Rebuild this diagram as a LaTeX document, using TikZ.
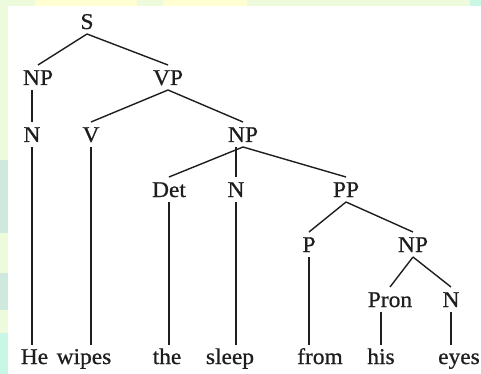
\documentclass[tikz,border=0pt]{standalone}
\usepackage{fontspec}
\setmainfont{Liberation Serif}
\newfontfamily\treefont{Liberation Serif}[FakeBold=0.7, FakeStretch=1.04]
\definecolor{pagegreen}{HTML}{EDFBDC}
\definecolor{pageyellow}{HTML}{FFFDD2}
\definecolor{pageteal}{HTML}{CFE9DF}
\definecolor{pagecyan}{HTML}{C9F7E6}
\definecolor{ink}{HTML}{1E1E1E}
\begin{document}
\begin{tikzpicture}[x=1pt,y=-1pt,
  lbl/.style={font=\treefont\fontsize{22.5}{27}\selectfont, text=ink, inner xsep=1pt,
    inner ysep=5pt, outer sep=0pt, text height=15pt, text depth=0pt, anchor=base},
  leaf/.style={lbl, inner ysep=3pt, text height=16pt, text depth=5pt},
  branch/.style={line width=1.4pt, draw=ink}]
\useasboundingbox (0,0) rectangle (481,374);
\clip (0,0) rectangle (481,374);
% slide background around the white panel
\fill[pagegreen] (0,0) rectangle (481,374);
\fill[pageyellow] (35,0) rectangle (137,6);
\fill[pageyellow] (163,0) rectangle (247,6);
\fill[pagecyan] (470,0) rectangle (481,6);
\fill[pageteal] (0,160) rectangle (8,233);
\fill[pageteal] (0,273) rectangle (8,310);
\fill[pagecyan] (0,333) rectangle (8,374);
\fill[white] (8,6) rectangle (481,374);

% phrase labels
\node[lbl] (s)    at (87,29)   {S};
\node[lbl] (np1)  at (38,85)   {NP};
\node[lbl] (vp)   at (168,85)  {VP};
\node[lbl] (n1)   at (32,142)  {N};
\node[lbl] (v)    at (91,142)  {V};
\node[lbl] (np2)  at (243,142) {NP};
\node[lbl] (det)  at (169,197) {Det};
\node[lbl] (n2)   at (236,197) {N};
\node[lbl] (pp)   at (346,197) {PP};
\node[lbl] (p)    at (309,252) {P};
\node[lbl] (np3)  at (413,252) {NP};
\node[lbl] (pron) at (390,307) {Pron};
\node[lbl] (n3)   at (451,307) {N};

% words
\node[leaf] (he)    at (34.5,364) {He};
\node[leaf] (wipes) at (84,364)   {wipes};
\node[leaf] (the)   at (167,364)  {the};
\node[leaf] (sleep) at (230,364)  {sleep};
\node[leaf] (from)  at (320,364)  {from};
\node[leaf] (his)   at (381,364)  {his};
\node[leaf] (eyes)  at (459,364)  {eyes};

% branches
\draw[branch] (s.south) -- (np1.north);
\draw[branch] (s.south) -- (vp.north);
\draw[branch] (n1.north |- np1.south) -- (n1.north);
\draw[branch] (vp.south) -- (v.north);
\draw[branch] (vp.south) -- (np2.north);
\draw[branch] (np2.south) -- (det.north);
\draw[branch] (n2.north |- np2.south) -- (n2.north);
\draw[branch] (np2.south) -- (pp.north);
\draw[branch] (pp.south) -- (p.north);
\draw[branch] (pp.south) -- (np3.north);
\draw[branch] (np3.south) -- (pron.north);
\draw[branch] (np3.south) -- (n3.north);

% branches down to the words
\draw[branch] (n1.south) -- (n1.south |- he.north);
\draw[branch] (v.south) -- (v.south |- wipes.north);
\draw[branch] (det.south) -- (det.south |- the.north);
\draw[branch] (n2.south) -- (n2.south |- sleep.north);
\draw[branch] (p.south) -- (p.south |- from.north);
\draw[branch] (his.north |- pron.south) -- (his.north);
\draw[branch] (n3.south) -- (n3.south |- eyes.north);
\end{tikzpicture}
\end{document}
